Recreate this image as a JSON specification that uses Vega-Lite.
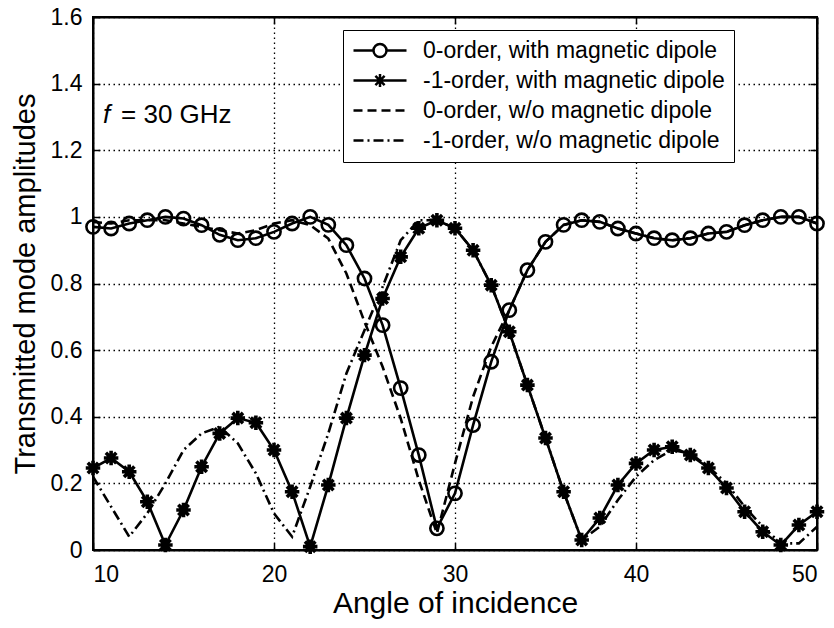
{
  "$schema": "https://vega.github.io/schema/vega-lite/v6.json",
  "width": 724,
  "height": 533,
  "autosize": {"type": "none"},
  "padding": {"left": 93, "top": 17, "right": 17, "bottom": 78},
  "background": "white",
  "config": {
    "view": {"stroke": "black", "strokeWidth": 2},
    "font": "Liberation Sans",
    "axis": {
      "domainColor": "black",
      "domainWidth": 2,
      "tickColor": "black",
      "tickWidth": 1.5,
      "gridColor": "black",
      "gridOpacity": 1,
      "gridDash": [1.5, 3.5],
      "gridWidth": 1.3,
      "labelFont": "Liberation Sans",
      "labelColor": "black",
      "labelFontSize": 23,
      "titleFont": "Liberation Sans",
      "titleColor": "black",
      "titleFontWeight": "normal"
    },
    "legend": {
      "symbolOpacity": 1,
      "symbolStrokeColor": "black",
      "symbolFillColor": "transparent",
      "symbolStrokeWidth": 2.5
    }
  },
  "datasets": {
    "amps": [
      {"a": 10, "A": 0.97, "B": 0.246, "C": 0.985, "D": 0.22},
      {"a": 11, "A": 0.965, "B": 0.276, "C": 0.98, "D": 0.13},
      {"a": 12, "A": 0.98, "B": 0.235, "C": 0.99, "D": 0.04},
      {"a": 13, "A": 0.99, "B": 0.145, "C": 0.99, "D": 0.11},
      {"a": 14, "A": 1.0, "B": 0.015, "C": 0.99, "D": 0.2},
      {"a": 15, "A": 0.995, "B": 0.12, "C": 0.98, "D": 0.3},
      {"a": 16, "A": 0.975, "B": 0.25, "C": 0.97, "D": 0.35},
      {"a": 17, "A": 0.946, "B": 0.35, "C": 0.96, "D": 0.37},
      {"a": 18, "A": 0.93, "B": 0.396, "C": 0.95, "D": 0.32},
      {"a": 19, "A": 0.936, "B": 0.382, "C": 0.96, "D": 0.23},
      {"a": 20, "A": 0.955, "B": 0.3, "C": 0.98, "D": 0.11},
      {"a": 21, "A": 0.98, "B": 0.175, "C": 0.99, "D": 0.04},
      {"a": 22, "A": 1.0, "B": 0.01, "C": 0.975, "D": 0.19},
      {"a": 23, "A": 0.976, "B": 0.195, "C": 0.935, "D": 0.35},
      {"a": 24, "A": 0.915, "B": 0.396, "C": 0.83, "D": 0.53},
      {"a": 25, "A": 0.815, "B": 0.585, "C": 0.685, "D": 0.66},
      {"a": 26, "A": 0.675, "B": 0.755, "C": 0.55, "D": 0.79},
      {"a": 27, "A": 0.486, "B": 0.88, "C": 0.395, "D": 0.93},
      {"a": 28, "A": 0.285, "B": 0.966, "C": 0.21, "D": 0.99},
      {"a": 29, "A": 0.065, "B": 0.99, "C": 0.05, "D": 0.99},
      {"a": 30, "A": 0.17, "B": 0.966, "C": 0.26, "D": 0.966},
      {"a": 31, "A": 0.375, "B": 0.9, "C": 0.46, "D": 0.9},
      {"a": 32, "A": 0.565, "B": 0.795, "C": 0.61, "D": 0.795},
      {"a": 33, "A": 0.72, "B": 0.655, "C": 0.72, "D": 0.655},
      {"a": 34, "A": 0.84, "B": 0.495, "C": 0.84, "D": 0.495},
      {"a": 35, "A": 0.925, "B": 0.336, "C": 0.925, "D": 0.336},
      {"a": 36, "A": 0.976, "B": 0.175, "C": 0.976, "D": 0.175},
      {"a": 37, "A": 0.99, "B": 0.03, "C": 0.99, "D": 0.03},
      {"a": 38, "A": 0.985, "B": 0.096, "C": 0.985, "D": 0.07},
      {"a": 39, "A": 0.965, "B": 0.195, "C": 0.965, "D": 0.15},
      {"a": 40, "A": 0.95, "B": 0.26, "C": 0.95, "D": 0.22},
      {"a": 41, "A": 0.936, "B": 0.3, "C": 0.936, "D": 0.27},
      {"a": 42, "A": 0.93, "B": 0.31, "C": 0.93, "D": 0.3},
      {"a": 43, "A": 0.936, "B": 0.285, "C": 0.936, "D": 0.29},
      {"a": 44, "A": 0.95, "B": 0.246, "C": 0.95, "D": 0.25},
      {"a": 45, "A": 0.955, "B": 0.186, "C": 0.955, "D": 0.2},
      {"a": 46, "A": 0.975, "B": 0.115, "C": 0.975, "D": 0.13},
      {"a": 47, "A": 0.99, "B": 0.055, "C": 0.99, "D": 0.07},
      {"a": 48, "A": 1.0, "B": 0.015, "C": 1.0, "D": 0.02},
      {"a": 49, "A": 1.0, "B": 0.075, "C": 1.0, "D": 0.02},
      {"a": 50, "A": 0.98, "B": 0.115, "C": 0.98, "D": 0.07}
    ]
  },
  "data": {"name": "amps"},
  "resolve": {"axis": {"x": "independent", "y": "independent"}},
  "layer": [
    {
      "mark": {"type": "line", "color": "black", "strokeWidth": 2.6, "strokeDash": [9, 5]},
      "encoding": {
        "x": {
          "field": "a", "type": "quantitative",
          "scale": {"domain": [10, 50], "nice": false, "zero": false},
          "axis": {"values": [10, 20, 30, 40, 50], "title": "Angle of incidence", "grid": true, "tickSize": -7, "labelPadding": 20, "titleFontSize": 30, "titlePadding": 2}
        },
        "y": {
          "field": "C", "type": "quantitative",
          "scale": {"domain": [0, 1.6], "nice": false, "zero": false},
          "axis": {"values": [0, 0.2, 0.4, 0.6, 0.8, 1, 1.2, 1.4, 1.6], "format": "~g", "title": "Transmitted mode amplitudes", "grid": true, "tickSize": -7, "labelPadding": 18, "titleFontSize": 29, "titlePadding": 10}
        }
      }
    },
    {
      "mark": {"type": "line", "color": "black", "strokeWidth": 2.6, "strokeDash": [10, 4, 2, 4]},
      "encoding": {
        "x": {"field": "a", "type": "quantitative", "axis": null},
        "y": {"field": "D", "type": "quantitative", "axis": null}
      }
    },
    {
      "mark": {"type": "line", "color": "black", "strokeWidth": 2.6},
      "encoding": {
        "x": {"field": "a", "type": "quantitative", "axis": null},
        "y": {"field": "A", "type": "quantitative", "axis": null}
      }
    },
    {
      "mark": {"type": "line", "color": "black", "strokeWidth": 2.6},
      "encoding": {
        "x": {"field": "a", "type": "quantitative", "axis": null},
        "y": {"field": "B", "type": "quantitative", "axis": null}
      }
    },
    {
      "mark": {"type": "point", "shape": "circle", "filled": false, "color": "black", "strokeWidth": 2.6, "size": 175, "opacity": 1},
      "encoding": {
        "x": {"field": "a", "type": "quantitative", "axis": null},
        "y": {"field": "A", "type": "quantitative", "axis": null}
      }
    },
    {
      "mark": {"type": "point", "shape": "M-1,0L1,0M0,-1L0,1M-0.72,-0.72L0.72,0.72M-0.72,0.72L0.72,-0.72", "filled": false, "color": "black", "strokeWidth": 3.6, "size": 210, "opacity": 1},
      "encoding": {
        "x": {"field": "a", "type": "quantitative", "axis": null},
        "y": {"field": "B", "type": "quantitative", "axis": null}
      }
    },
    {
      "data": {"values": [
        {"s": "0-order, with magnetic dipole", "a": 10, "v": 0.97},
        {"s": "-1-order, with magnetic dipole", "a": 10, "v": 0.246},
        {"s": "0-order, w/o magnetic dipole", "a": 10, "v": 0.985},
        {"s": "-1-order, w/o magnetic dipole", "a": 10, "v": 0.22}
      ]},
      "mark": {"type": "point", "filled": false, "color": "black", "opacity": 0},
      "encoding": {
        "x": {"field": "a", "type": "quantitative", "axis": null},
        "y": {"field": "v", "type": "quantitative", "axis": null},
        "shape": {
          "field": "s", "type": "nominal",
          "scale": {
            "domain": ["0-order, with magnetic dipole", "-1-order, with magnetic dipole", "0-order, w/o magnetic dipole", "-1-order, w/o magnetic dipole"],
            "range": [
              "M-1,0H1.0M2.3,0H4.3M1.0,0A0.65,0.65,0,1,1,2.3,0A0.65,0.65,0,1,1,1.0,0Z",
              "M-1,0H4.3M1.0,0H2.3M1.65,-0.65V0.65M1.19,-0.46L2.11,0.46M1.19,0.46L2.11,-0.46",
              "M-1,0H-0.1M0.4,0H1.3M1.8,0H2.7M3.2,0H4.1",
              "M-1,0H0M0.4,0H0.6M1,0H2M2.4,0H2.6M3,0H4"
            ]
          },
          "legend": {
            "title": null,
            "orient": "none",
            "legendX": 250,
            "legendY": 13,
            "padding": 9,
            "fillColor": "white",
            "strokeColor": "black",
            "symbolSize": 400,
            "labelOffset": 48,
            "labelFont": "Liberation Sans",
            "labelFontSize": 23,
            "labelColor": "black",
            "labelLimit": 500,
            "rowPadding": 6
          }
        }
      }
    },
    {
      "data": {"values": [{"a": 10.55, "v": 1.282, "t": "f"}]},
      "mark": {"type": "text", "align": "left", "baseline": "alphabetic", "fontSize": 26, "fontStyle": "italic", "font": "Liberation Sans", "color": "black"},
      "encoding": {
        "x": {"field": "a", "type": "quantitative", "axis": {"orient": "top", "values": [10, 20, 30, 40, 50], "labels": false, "grid": false, "title": null, "tickSize": -7, "domain": true}},
        "y": {"field": "v", "type": "quantitative", "axis": {"orient": "right", "values": [0, 0.2, 0.4, 0.6, 0.8, 1, 1.2, 1.4, 1.6], "labels": false, "grid": false, "title": null, "tickSize": -7, "domain": true}},
        "text": {"field": "t", "type": "nominal"}
      }
    },
    {
      "data": {"values": [{"a": 11.55, "v": 1.282, "t": "= 30 GHz"}]},
      "mark": {"type": "text", "align": "left", "baseline": "alphabetic", "fontSize": 26, "font": "Liberation Sans", "color": "black"},
      "encoding": {
        "x": {"field": "a", "type": "quantitative", "axis": null},
        "y": {"field": "v", "type": "quantitative", "axis": null},
        "text": {"field": "t", "type": "nominal"}
      }
    }
  ]
}
